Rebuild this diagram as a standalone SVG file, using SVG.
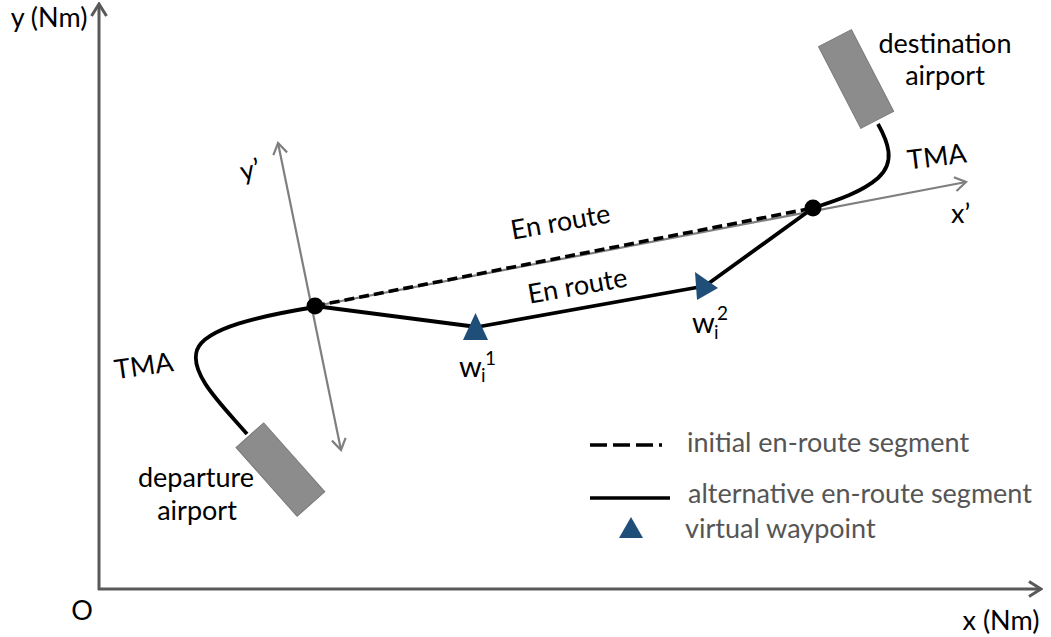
<svg xmlns="http://www.w3.org/2000/svg" width="1051" height="637" viewBox="0 0 1051 637">
<style>
text{font-family:Lato,"Liberation Sans",sans-serif;font-size:27px;fill:#000}
.leg{fill:#555}
.sub{font-size:19px}
.axis{stroke:#595959;stroke-width:3;fill:none}
.ax2{stroke:#7f7f7f;stroke-width:2.2;fill:none}
.route{stroke:#000;stroke-width:3.8;fill:none;stroke-linejoin:round}
.airport{fill:#8c8c8c;stroke:#7a7a7a;stroke-width:1}
.wp{fill:#1f4e79}
</style>
<defs>
<marker id="ca" markerUnits="userSpaceOnUse" viewBox="-16 -10 18 20" refX="0" refY="0" markerWidth="18" markerHeight="20" orient="auto-start-reverse">
<path d="M-12,-7.5 L0,0 L-12,7.5" fill="none" stroke="#595959" stroke-width="3"/>
</marker>
<marker id="cb" markerUnits="userSpaceOnUse" viewBox="-16 -10 18 20" refX="0" refY="0" markerWidth="18" markerHeight="20" orient="auto-start-reverse">
<path d="M-11,-7 L0,0 L-11,7" fill="none" stroke="#7f7f7f" stroke-width="2.2"/>
</marker>
</defs>
<g id="axes">
<line class="axis" x1="99" y1="590" x2="99" y2="4" marker-end="url(#ca)"/>
<line class="axis" x1="98" y1="589" x2="1041" y2="589" marker-end="url(#ca)"/>
<text x="49" y="27" text-anchor="middle">y (Nm)</text>
<text x="82" y="620" text-anchor="middle">O</text>
<text x="1001" y="630" text-anchor="middle">x (Nm)</text>
</g>
<g id="local-axes">
<line class="ax2" x1="315" y1="306" x2="966" y2="182" marker-end="url(#cb)"/>
<line class="ax2" x1="278" y1="143" x2="341" y2="450" marker-start="url(#cb)" marker-end="url(#cb)"/>
<text x="951" y="223">x’</text>
<text x="252" y="179" text-anchor="middle" transform="rotate(-12 252 179)">y’</text>
</g>
<g id="connectors">
<path class="route" d="M315,307 C260,316 205,328 197,350 C189,374 222,405 247,434"/>
<path class="route" d="M878,124 C888,142 896,162 878,178 C862,192 838,200 813,208"/>
<line x1="315" y1="306" x2="813" y2="208" stroke="#000" stroke-width="3.6" stroke-dasharray="10 5"/>
<polyline class="route" points="315,306 477,327 705,286 813,208"/>
<text x="562" y="231" text-anchor="middle" transform="rotate(-10 562 231)">En route</text>
<text x="579" y="295" text-anchor="middle" transform="rotate(-10 579 295)">En route</text>
<text x="145" y="375" text-anchor="middle" transform="rotate(-8 145 375)">TMA</text>
<text x="938" y="166" text-anchor="middle" transform="rotate(-7 938 166)">TMA</text>
</g>
<g id="departure-airport">
<rect class="airport" x="-46" y="-18.5" width="92" height="37" transform="translate(280.4 469.6) rotate(48.4)"/>
<text x="196" y="487" text-anchor="middle">departure</text>
<text x="197" y="520" text-anchor="middle">airport</text>
</g>
<g id="destination-airport">
<rect class="airport" x="-46" y="-18.5" width="92" height="37" transform="translate(856.1 79) rotate(62.7)"/>
<text x="945" y="53" text-anchor="middle">destination</text>
<text x="945" y="85" text-anchor="middle">airport</text>
</g>
<g id="node-start"><circle cx="315" cy="306" r="8.5"/></g>
<g id="node-end"><circle cx="813" cy="208" r="8.5"/></g>
<g id="waypoint-1">
<polygon class="wp" points="475.5,313 463,340 488,340"/>
<text x="459" y="377" style="font-size:29px">w</text>
<text x="481" y="382" class="sub">i</text>
<text x="485" y="365" class="sub">1</text>
</g>
<g id="waypoint-2">
<polygon class="wp" points="695,272 718,288 697,300"/>
<text x="692" y="333" style="font-size:29px">w</text>
<text x="714" y="339" class="sub">i</text>
<text x="717" y="320" class="sub">2</text>
</g>
<g id="legend">
<line x1="590" y1="445" x2="662" y2="445" stroke="#000" stroke-width="3.5" stroke-dasharray="17 6"/>
<text class="leg" x="687" y="452">initial en-route segment</text>
<line x1="590" y1="498" x2="670" y2="498" stroke="#000" stroke-width="3.5"/>
<text class="leg" x="688" y="503">alternative en-route segment</text>
<polygon class="wp" points="631,517 619,538 643,538"/>
<text class="leg" x="685" y="538">virtual waypoint</text>
</g>
</svg>
